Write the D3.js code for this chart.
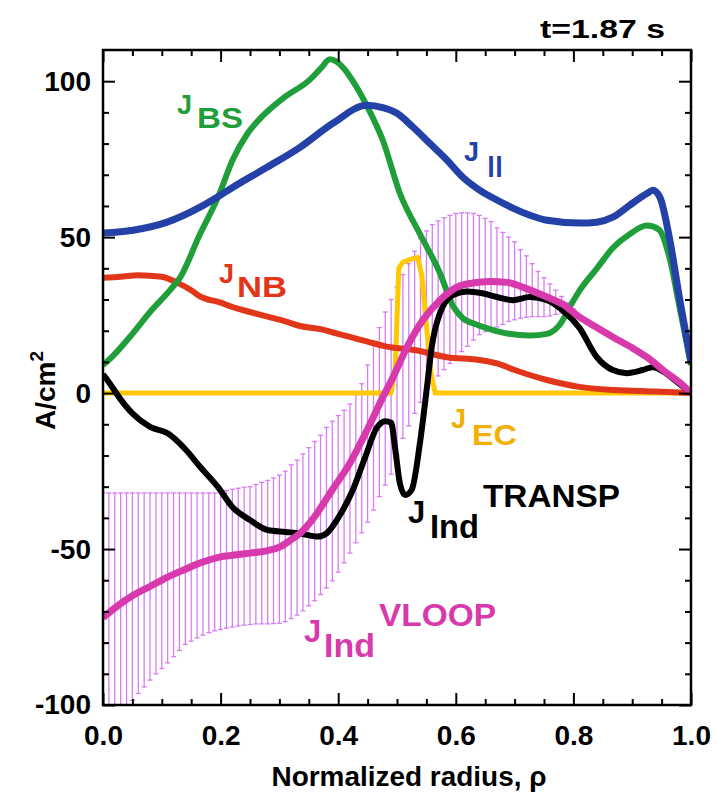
<!DOCTYPE html>
<html>
<head>
<meta charset="utf-8">
<script src="https://cdn.jsdelivr.net/npm/d3@7"></script>
<style>
  body { margin: 0; background: #fff; }
  svg { display: block; }
  text { font-family: "Liberation Sans", Arial, Helvetica, sans-serif; font-weight: bold; }
</style>
</head>
<body>
<svg id="chart" width="719" height="802"></svg>
<script>
// ---- current density profiles (A/cm^2) vs normalized radius rho ----
const bsRho = [0, 0.012, 0.05, 0.08, 0.114, 0.131, 0.165, 0.196, 0.221, 0.245, 0.267, 0.306, 0.352, 0.37, 0.386,
               0.41, 0.425, 0.449, 0.476, 0.505, 0.539, 0.573, 0.595, 0.612, 0.635, 0.658, 0.69, 0.726, 0.755,
               0.777, 0.795, 0.811, 0.84, 0.867, 0.896, 0.925, 0.945, 0.964, 0.98, 1.0];
const bsVal = [9, 11, 19, 26, 33, 37, 51, 63, 75, 83, 88, 94.5, 100.5, 104, 107,
               104, 100, 92, 81, 64, 51, 38.5, 28, 24, 22, 20.5, 19, 18.5, 19,
               22, 28, 33, 40, 46.5, 51, 53.7, 52.5, 43, 28, 9];

const parRho = [0, 0.051, 0.109, 0.165, 0.194, 0.221, 0.279, 0.335, 0.391, 0.449, 0.476, 0.5, 0.527, 0.556,
                0.585, 0.612, 0.641, 0.67, 0.697, 0.726, 0.755, 0.811, 0.84, 0.867, 0.896, 0.925, 0.935,
                0.947, 0.964, 0.981, 1.0];
const parVal = [51.3, 52.2, 54.8, 59.6, 62.8, 66, 72.4, 78.8, 86.5, 92.3, 91.5, 89.7, 85.3, 80,
                74.7, 69.2, 65, 61.9, 59.3, 57, 55.4, 54.5, 54.8, 56.4, 60.3, 64, 65,
                62.8, 49, 29.8, 10];

const nbRho = [0, 0.03, 0.06, 0.1, 0.125, 0.15, 0.165, 0.2, 0.22, 0.25, 0.28, 0.31, 0.335, 0.37, 0.39, 0.42,
               0.45, 0.48, 0.53, 0.585, 0.64, 0.67, 0.7, 0.755, 0.81, 0.87, 0.94, 1.0];
const nbVal = [37, 37.3, 37.8, 37.3, 35.5, 33, 31, 29, 27.6, 26, 24.5, 23, 21.5, 20.5, 19.5, 18,
               16.5, 15, 13.8, 11.5, 10.6, 9.5, 7.4, 4.2, 2, 1, 0.5, 0];

const ecRho = [0, 0.49, 0.497, 0.503, 0.51, 0.525, 0.535, 0.542, 0.55, 0.558, 0.565, 1.0];
const ecVal = [0, 0, 8, 40, 42, 43, 43.5, 38, 22, 6, 0, 0];

const transpRho = [0, 0.01, 0.03, 0.05, 0.08, 0.11, 0.14, 0.165, 0.195, 0.22, 0.25, 0.28, 0.31, 0.335, 0.365,
                   0.38, 0.4, 0.425, 0.445, 0.466, 0.48, 0.49, 0.497, 0.505, 0.514, 0.525, 0.539, 0.551,
                   0.559, 0.573, 0.595, 0.62, 0.645, 0.67, 0.697, 0.726, 0.755, 0.785, 0.81, 0.84, 0.867,
                   0.891, 0.918, 0.935, 0.96, 0.98, 1.0];
const transpVal = [6, 3.5, -2, -6.5, -10.8, -12.9, -18, -23.6, -30, -36.5, -40.7, -43.9, -44.5, -45, -46,
                   -45, -40, -31, -21, -11, -9, -9.5, -18, -29, -32.7, -31, -16, 2,
                   14.7, 25.6, 31.4, 32.6, 32, 30.8, 29.8, 30.8, 29.8, 26, 21, 11.5, 7.4,
                   6.4, 7.4, 8.3, 6, 3, 0];

const vloopRho = [0, 0.03, 0.05, 0.08, 0.11, 0.14, 0.165, 0.2, 0.22, 0.25, 0.28, 0.3, 0.32, 0.335, 0.35, 0.364,
                  0.39, 0.42, 0.449, 0.476, 0.493, 0.517, 0.544, 0.573, 0.602, 0.629, 0.658, 0.687, 0.72,
                  0.755, 0.782, 0.81, 0.84, 0.867, 0.9, 0.925, 0.959, 0.98, 1.0];
const vloopVal = [-72, -67.5, -65, -62, -59, -56.5, -54.5, -52.5, -52, -51.3, -50.5, -49.4, -47, -45, -42, -38.5,
                  -31, -22.4, -11.9, -1.3, 5, 14.7, 23.4, 29.8, 34, 35.3, 35.8, 35.5, 33.5,
                  30.8, 28.5, 24.4, 21, 18, 14.5, 11.5, 6.4, 3.5, 0];

// uncertainty band of the loop-voltage estimate, one bar per radial point
const errRho = [0, 0.01, 0.02, 0.03, 0.04, 0.05, 0.06, 0.07, 0.08, 0.09,
                0.1, 0.11, 0.12, 0.13, 0.14, 0.15, 0.16, 0.17, 0.18, 0.19,
                0.2, 0.21, 0.22, 0.23, 0.24, 0.25, 0.26, 0.27, 0.28, 0.29,
                0.3, 0.31, 0.32, 0.33, 0.34, 0.35, 0.36, 0.37, 0.38, 0.39,
                0.4, 0.41, 0.42, 0.43, 0.44, 0.45, 0.46, 0.47, 0.48, 0.49,
                0.5, 0.51, 0.52, 0.53, 0.54, 0.55, 0.56, 0.57, 0.58, 0.59,
                0.6, 0.61, 0.62, 0.63, 0.64, 0.65, 0.66, 0.67, 0.68, 0.69,
                0.7, 0.71, 0.72, 0.73, 0.74, 0.75, 0.76, 0.77, 0.78, 0.79, 0.8];
const errHigh = [-32, -32, -32, -32, -32, -32, -32, -32, -32, -32,
                 -32, -32, -32, -32, -32, -32, -32, -32, -32, -32,
                 -31.6, -31.2, -30.8, -30.5, -30.2, -30, -29.3, -28.6, -28, -27.2,
                 -26.3, -25, -23, -21.5, -19.5, -17.5, -15.5, -13.5, -11, -9,
                 -7.2, -5.5, -3.5, -0.5, 3, 9, 16, 21, 26, 30,
                 34, 38, 41.5, 45.5, 49.5, 52, 54, 55.2, 56.2, 57,
                 57.6, 57.8, 57.8, 57.6, 57, 56, 55, 53, 51.5, 50,
                 48.5, 46, 44, 41.5, 39, 37, 35, 33, 31, 29, 27];
const errLow = [-112, -109, -106, -103.5, -101, -98.5, -96.3, -94.2, -92, -90,
                -88.3, -86.5, -84.5, -82.5, -80.6, -79.5, -78.5, -77.6, -76.8, -76.2,
                -75.8, -75.4, -75, -74.7, -74.4, -74.2, -74, -74, -74, -73.9,
                -73.8, -73.3, -72.3, -71.2, -69.8, -68.2, -66.6, -64.6, -62.5, -60.2,
                -57.4, -54.4, -51.3, -48, -44.8, -41.4, -37.5, -33.2, -29.5, -26,
                -20, -14.5, -10.5, -6.5, -3, 0.5, 3, 5.5, 7.5, 9.5,
                11.5, 13.3, 15, 17, 18.7, 19.7, 20.5, 21.2, 22, 23,
                23.5, 24, 24.3, 24.5, 24.5, 24.5, 24.7, 25.2, 25.6, 25.5, 25];

// axis ticks
const xMajor = [0, 0.2, 0.4, 0.6, 0.8, 1.0];
const xMinor = [0.05, 0.1, 0.15, 0.25, 0.3, 0.35, 0.45, 0.5, 0.55, 0.65, 0.7, 0.75, 0.85, 0.9, 0.95];
const yMajor = [-100, -50, 0, 50, 100];
const yMinor = [-90, -80, -70, -60, -40, -30, -20, -10, 10, 20, 30, 40, 60, 70, 80, 90];

// ---- layout ----
const svg = d3.select("#chart");
const W = 719, H = 802;
const mLeft = 103, mRight = 691, mTop = 50, mBottom = 705;

const x = d3.scaleLinear().domain([0, 1]).range([mLeft, mRight]);
const y = d3.scaleLinear().domain([-100, 110]).range([mBottom, mTop]);

svg.append("rect").attr("width", W).attr("height", H).attr("fill", "#fff");

svg.append("defs").append("clipPath").attr("id", "plotClip")
  .append("rect").attr("x", mLeft).attr("y", mTop)
  .attr("width", mRight - mLeft).attr("height", mBottom - mTop);

const plot = svg.append("g").attr("clip-path", "url(#plotClip)");

// error bars
const bars = errRho.map((r, i) => ({ r, hi: errHigh[i], lo: errLow[i] }));
const barColor = "#d77cf5";
const barG = plot.append("g").attr("stroke", barColor).attr("stroke-width", 1.3);
barG.selectAll("line.bar").data(bars).join("line").attr("class", "bar")
  .attr("x1", d => x(d.r)).attr("x2", d => x(d.r))
  .attr("y1", d => y(d.hi)).attr("y2", d => y(d.lo));
barG.selectAll("line.capHi").data(bars).join("line").attr("class", "capHi")
  .attr("x1", d => x(d.r) - 2.5).attr("x2", d => x(d.r) + 2.5)
  .attr("y1", d => y(d.hi)).attr("y2", d => y(d.hi));
barG.selectAll("line.capLo").data(bars).join("line").attr("class", "capLo")
  .attr("x1", d => x(d.r) - 2.5).attr("x2", d => x(d.r) + 2.5)
  .attr("y1", d => y(d.lo)).attr("y2", d => y(d.lo));

function drawCurve(rhos, vals, color, width, curve) {
  const pts = rhos.map((r, i) => [r, vals[i]]);
  const line = d3.line().x(d => x(d[0])).y(d => y(d[1])).curve(curve || d3.curveMonotoneX);
  plot.append("path").datum(pts)
    .attr("d", line)
    .attr("fill", "none")
    .attr("stroke", color)
    .attr("stroke-width", width)
    .attr("stroke-linejoin", "round")
    .attr("stroke-linecap", "butt");
}

const colBS = "#1f9e3a", colPar = "#2341a6", colNB = "#e2361a",
      colEC = "#ffc800", colEClabel = "#f2b000", colTr = "#000000", colVl = "#d83aad";

drawCurve(ecRho, ecVal, colEC, 5, d3.curveLinear);
drawCurve(nbRho, nbVal, colNB, 6);
drawCurve(bsRho, bsVal, colBS, 6);
drawCurve(parRho, parVal, colPar, 7);
drawCurve(transpRho, transpVal, colTr, 6);
drawCurve(vloopRho, vloopVal, colVl, 7);

// ---- axes (ticks point inward on all four sides) ----
function styleAxis(g) {
  g.select(".domain").remove();
  g.selectAll(".tick line").attr("stroke", "#000").attr("stroke-width", 2);
  g.selectAll("text").attr("fill", "#000").attr("font-size", 28)
    .attr("font-family", "'Liberation Sans', Arial, sans-serif").attr("font-weight", "bold");
}
const fmt = d3.format(".1f");
svg.append("g").attr("transform", `translate(0,${mBottom})`)
  .call(d3.axisBottom(x).tickValues(xMajor).tickSize(-12).tickPadding(20).tickFormat(fmt)).call(styleAxis);
svg.append("g").attr("transform", `translate(0,${mBottom})`)
  .call(d3.axisBottom(x).tickValues(xMinor).tickSize(-6).tickFormat("")).call(styleAxis);
svg.append("g").attr("transform", `translate(0,${mTop})`)
  .call(d3.axisTop(x).tickValues(xMajor).tickSize(-12).tickFormat("")).call(styleAxis);
svg.append("g").attr("transform", `translate(0,${mTop})`)
  .call(d3.axisTop(x).tickValues(xMinor).tickSize(-6).tickFormat("")).call(styleAxis);
svg.append("g").attr("transform", `translate(${mLeft},0)`)
  .call(d3.axisLeft(y).tickValues(yMajor).tickSize(-12).tickPadding(12).tickFormat(d => String(d))).call(styleAxis);
svg.append("g").attr("transform", `translate(${mLeft},0)`)
  .call(d3.axisLeft(y).tickValues(yMinor).tickSize(-6).tickFormat("")).call(styleAxis);
svg.append("g").attr("transform", `translate(${mRight},0)`)
  .call(d3.axisRight(y).tickValues(yMajor).tickSize(-12).tickFormat("")).call(styleAxis);
svg.append("g").attr("transform", `translate(${mRight},0)`)
  .call(d3.axisRight(y).tickValues(yMinor).tickSize(-6).tickFormat("")).call(styleAxis);

svg.append("rect").attr("x", mLeft).attr("y", mTop)
  .attr("width", mRight - mLeft).attr("height", mBottom - mTop)
  .attr("fill", "none").attr("stroke", "#000").attr("stroke-width", 2.5);

// ---- titles ----
svg.append("text").attr("x", 409).attr("y", 786).attr("text-anchor", "middle")
  .attr("font-size", 28).attr("textLength", 275).attr("lengthAdjust", "spacingAndGlyphs")
  .text("Normalized radius, ρ");

const yt = svg.append("text").attr("transform", "translate(55,430) rotate(-90)")
  .attr("font-size", 28);
yt.append("tspan").text("A/cm");
yt.append("tspan").attr("font-size", 19).attr("dy", -12).text("2");

svg.append("text").attr("x", 540).attr("y", 38).attr("font-size", 25)
  .attr("textLength", 125).attr("lengthAdjust", "spacingAndGlyphs").text("t=1.87 s");

// ---- curve labels: J with subscript / superscript ----
function label(parts, color) {
  const g = svg.append("g").attr("fill", color);
  parts.forEach(p => {
    const t = g.append("text").attr("x", p.x).attr("y", p.y).attr("font-size", p.s).text(p.t);
    if (p.w) t.attr("textLength", p.w).attr("lengthAdjust", "spacingAndGlyphs");
  });
}
label([{ t: "J", x: 177, y: 114, s: 27 }, { t: "BS", x: 197, y: 128, s: 29, w: 46 }], colBS);
label([{ t: "J", x: 464, y: 161, s: 27 }, { t: "||", x: 487, y: 172, s: 22, w: 16 }], colPar);
label([{ t: "J", x: 219, y: 283, s: 27 }, { t: "NB", x: 237, y: 297, s: 29, w: 50 }], colNB);
label([{ t: "J", x: 451, y: 428, s: 27 }, { t: "EC", x: 472, y: 445, s: 30, w: 45 }], colEClabel);
label([{ t: "J", x: 408, y: 523, s: 31 }, { t: "Ind", x: 430, y: 538, s: 33, w: 49 },
       { t: "TRANSP", x: 483, y: 507, s: 32, w: 137 }], colTr);
label([{ t: "J", x: 304, y: 642, s: 31 }, { t: "Ind", x: 324, y: 657, s: 33, w: 51 },
       { t: "VLOOP", x: 379, y: 626, s: 32, w: 117 }], colVl);
</script>
</body>
</html>
